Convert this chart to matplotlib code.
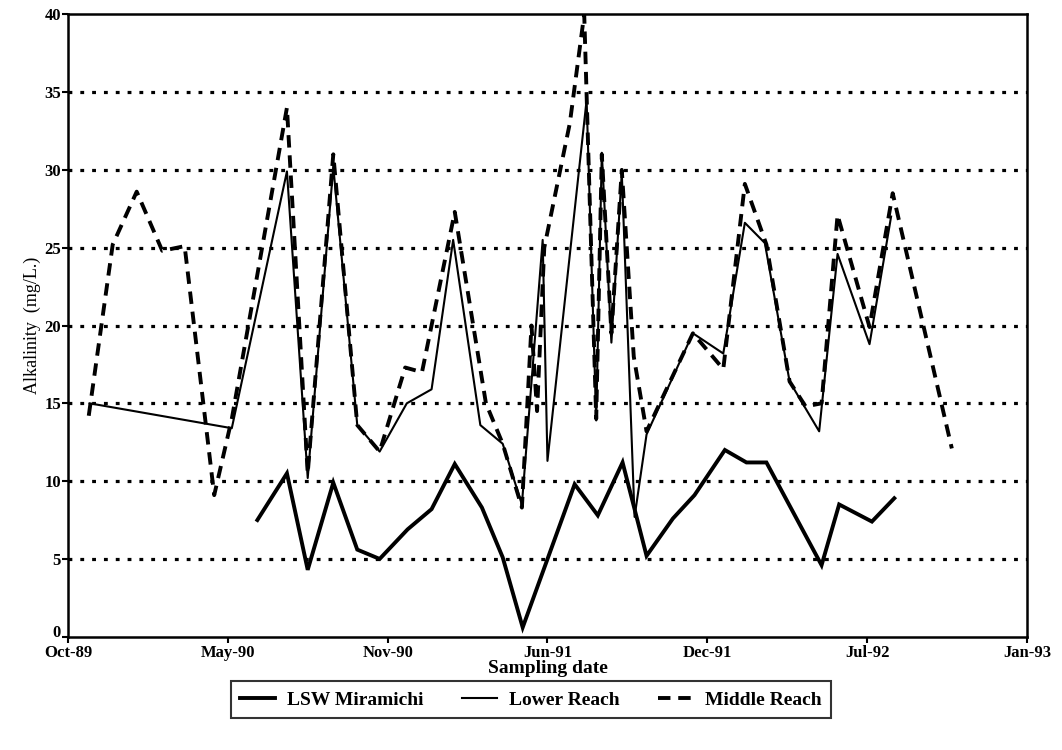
import matplotlib
matplotlib.use("Agg")
import matplotlib.pyplot as plt
import matplotlib.dates as mdates
import matplotlib.transforms as mtransforms
import pandas as pd

plt.rcParams['font.family'] = ['Liberation Serif', 'DejaVu Serif']

# LSW Miramichi (thick solid)
lsw_dates = ["1990-06-09", "1990-07-16", "1990-08-11", "1990-09-12", "1990-10-12",
             "1990-11-09", "1990-12-14", "1991-01-13", "1991-02-11", "1991-03-17",
             "1991-04-12", "1991-05-07", "1991-07-11", "1991-08-09", "1991-09-09",
             "1991-10-09", "1991-11-11", "1991-12-08", "1992-01-15", "1992-02-11",
             "1992-03-07", "1992-05-15", "1992-06-06", "1992-07-17", "1992-08-14"]
lsw_vals = [7.5, 10.5, 4.3, 9.9, 5.6, 5.0, 6.9, 8.2, 11.1, 8.3,
            5.1, 0.6, 9.8, 7.8, 11.2, 5.2, 7.6, 9.1, 12.0, 11.2,
            11.2, 4.6, 8.5, 7.4, 8.9]

# Lower Reach (thin solid)
lower_dates = ["1989-11-11", "1990-05-08", "1990-07-16", "1990-08-11", "1990-09-12",
               "1990-10-12", "1990-11-09", "1990-12-13", "1991-01-13", "1991-02-09",
               "1991-03-15", "1991-04-12", "1991-05-06", "1991-06-01", "1991-06-07",
               "1991-07-26", "1991-08-07", "1991-08-14", "1991-08-26", "1991-09-08",
               "1991-09-24", "1991-10-09", "1991-12-06", "1992-01-13", "1992-02-09",
               "1992-03-05", "1992-04-05", "1992-05-12", "1992-06-04", "1992-07-14",
               "1992-08-10"]
lower_vals = [15.0, 13.4, 29.9, 10.2, 30.2, 13.6, 11.9, 15.0, 15.9, 25.5,
              13.6, 12.4, 8.5, 25.5, 11.3, 34.5, 13.9, 31.1, 18.9, 29.8,
              7.7, 13.0, 19.5, 18.2, 26.6, 25.3, 16.4, 13.2, 24.6, 18.8,
              27.0]

# Middle Reach (dashed)
middle_dates = ["1989-11-10", "1989-12-10", "1990-01-09", "1990-02-10", "1990-03-10",
                "1990-04-16", "1990-05-08", "1990-07-16", "1990-08-11", "1990-09-12",
                "1990-10-12", "1990-11-09", "1990-12-11", "1991-01-01", "1991-02-11",
                "1991-03-22", "1991-04-12", "1991-05-06", "1991-05-18", "1991-05-25",
                "1991-06-03", "1991-06-25", "1991-07-05", "1991-07-23", "1991-08-07",
                "1991-08-14", "1991-08-26", "1991-09-08", "1991-09-23", "1991-10-09",
                "1991-12-06", "1992-01-13", "1992-02-09", "1992-03-07", "1992-04-05",
                "1992-04-25", "1992-05-15", "1992-06-04", "1992-07-14", "1992-08-12",
                "1992-10-25"]
middle_vals = [14.2, 25.2, 28.6, 24.8, 25.1, 9.1, 14.0, 34.0, 10.5, 31.0,
               13.6, 11.9, 17.3, 17.0, 27.3, 15.0, 12.4, 8.3, 20.0, 14.5,
               25.0, 30.5, 33.0, 40.0, 14.0, 31.0, 19.5, 30.0, 18.0, 13.2,
               19.5, 17.2, 29.1, 25.2, 16.4, 14.8, 15.0, 27.1, 19.9, 28.5,
               12.1]

tick_dates = ["1989-10-15", "1990-05-03", "1990-11-19", "1991-06-07",
              "1991-12-24", "1992-07-11", "1993-01-27"]
y_ticks = [0, 5, 10, 15, 20, 25, 30, 35, 40]

fig = plt.figure(figsize=(10.62, 7.5), dpi=100)
ax = fig.add_axes([0.064, 0.151, 0.903, 0.830])

ax.plot(pd.to_datetime(lsw_dates), lsw_vals, color="black", lw=2.8,
        label="LSW Miramichi", solid_joinstyle="miter")
ax.plot(pd.to_datetime(lower_dates), lower_vals, color="black", lw=1.5,
        label="Lower Reach")
ax.plot(pd.to_datetime(middle_dates), middle_vals, color="black", lw=2.8,
        dashes=(3.2, 2.0), label="Middle Reach")

for v in y_ticks[1:-1]:
    ax.axhline(v, color="black", lw=2.3, dashes=(1.2, 2.5), zorder=0)

tk = pd.to_datetime(tick_dates)
ax.set_xlim(tk[0], tk[-1])
ax.set_ylim(0, 40)
ax.set_xticks(tk)
ax.xaxis.set_major_formatter(mdates.DateFormatter("%b-%y"))
ax.set_yticks(y_ticks)

for sp in ax.spines.values():
    sp.set_linewidth(1.8)
    sp.set_color("black")

ax.tick_params(axis="both", direction="out", length=4, width=1.5,
               labelsize=12)
ax.tick_params(axis="y", pad=1)
ax.tick_params(axis="x", pad=2)
fig.canvas.draw()
for lbl in ax.get_xticklabels() + ax.get_yticklabels():
    lbl.set_fontweight("bold")
# nudge the "0" label up so it clears "Oct-89"
zero = ax.get_yticklabels()[0]
zero.set_transform(zero.get_transform() +
                   mtransforms.ScaledTranslation(0, 4 / 72, fig.dpi_scale_trans))

ax.set_xlabel("Sampling date", fontsize=14, fontweight="bold", labelpad=-1)
ax.set_ylabel("Alkalinity  (mg/L.)", fontsize=13, labelpad=2)

leg = fig.legend(loc="center", bbox_to_anchor=(0.5, 0.067), ncol=3,
                 frameon=True, fancybox=False,
                 handlelength=1.8, handletextpad=0.6, columnspacing=2.0,
                 borderpad=0.5, prop={"weight": "bold", "size": 14})
leg.get_frame().set_edgecolor("black")
leg.get_frame().set_linewidth(1.5)

fig.savefig("out.png", dpi=100)
